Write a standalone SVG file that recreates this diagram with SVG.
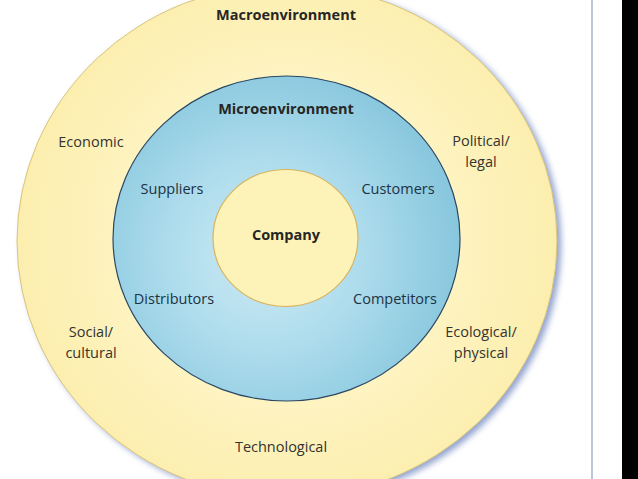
<svg xmlns="http://www.w3.org/2000/svg" width="638" height="479" viewBox="0 0 638 479">
  <defs>
    <filter id="shadow" x="-10%" y="-10%" width="120%" height="120%">
      <feGaussianBlur stdDeviation="3"/>
    </filter>
    <radialGradient id="blueGrad" gradientUnits="userSpaceOnUse" cx="265" cy="255" r="195">
      <stop offset="0" stop-color="#CFEAF4"/>
      <stop offset="0.5" stop-color="#ADDCEC"/>
      <stop offset="1" stop-color="#88C7DE"/>
    </radialGradient>
    <radialGradient id="yellowGrad" gradientUnits="userSpaceOnUse" cx="288" cy="240" r="270">
      <stop offset="0.6" stop-color="#FEF4C2"/>
      <stop offset="1" stop-color="#FCEEAE"/>
    </radialGradient>
  </defs>
  <style>
    .lbl { font-family: "Open Sans", "Noto Sans", "Liberation Sans", sans-serif; font-size: 14.5px; fill: #33332f; text-anchor: middle; }
    .blue { fill: #1c3244; }
    .title { font-weight: bold; fill: #262624; }
  </style>
  <rect x="0" y="0" width="638" height="479" fill="#ffffff"/>
  <rect x="622" y="0" width="16" height="479" fill="#000000"/>
  <line x1="592" y1="0" x2="592" y2="479" stroke="#A7B2CB" stroke-width="1.5"/>

  <g id="macroenvironment">
    <ellipse cx="291" cy="244" rx="270" ry="257" fill="#7E92C6" filter="url(#shadow)" opacity="0.85"/>
    <ellipse cx="287" cy="241" rx="270" ry="257" fill="url(#yellowGrad)" stroke="#D9C47A" stroke-width="1"/>
    <text class="lbl title" x="286" y="20">Macroenvironment</text>
    <text class="lbl" x="91" y="147">Economic</text>
    <text class="lbl" x="481" y="146"><tspan x="481">Political/</tspan><tspan x="481" dy="20.5">legal</tspan></text>
    <text class="lbl" x="91" y="337"><tspan x="91">Social/</tspan><tspan x="91" dy="20.5">cultural</tspan></text>
    <text class="lbl" x="481" y="337"><tspan x="481">Ecological/</tspan><tspan x="481" dy="20.5">physical</tspan></text>
    <text class="lbl" x="281" y="452">Technological</text>
  </g>

  <g id="microenvironment">
    <ellipse cx="286.5" cy="238.5" rx="173.5" ry="162.5" fill="url(#blueGrad)" stroke="#2B4863" stroke-width="1.2"/>
    <text class="lbl title blue" x="286" y="114">Microenvironment</text>
    <text class="lbl blue" x="172" y="194">Suppliers</text>
    <text class="lbl blue" x="398" y="194">Customers</text>
    <text class="lbl blue" x="174" y="304">Distributors</text>
    <text class="lbl blue" x="395" y="304">Competitors</text>
  </g>

  <g id="company">
    <ellipse cx="285.5" cy="238" rx="72.5" ry="68.5" fill="#FDF2B8" stroke="#D9B45E" stroke-width="1.2"/>
    <text class="lbl title" x="286" y="240">Company</text>
  </g>
</svg>
